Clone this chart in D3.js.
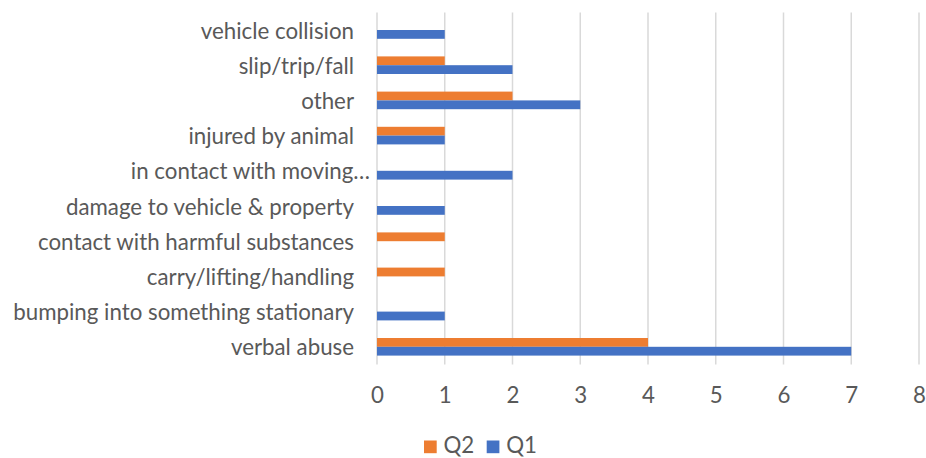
<!DOCTYPE html>
<html><head><meta charset="utf-8">
<script src="https://cdn.jsdelivr.net/npm/d3@7"></script>
<style>html,body{margin:0;padding:0;background:#fff;}svg{display:block;}</style>
</head><body>
<svg id="chart" width="926" height="458"></svg>
<script>
const categories = ["vehicle collision","slip/trip/fall","other","injured by animal","in contact with moving…","damage to vehicle & property","contact with harmful substances","carry/lifting/handling","bumping into something stationary","verbal abuse"];
const q1Values = [1,2,3,1,2,1,0,0,1,7];
const q2Values = [0,1,2,1,0,0,1,1,0,4];
const seriesNames = ["Q2","Q1"];
const xTicks = [0,1,2,3,4,5,6,7,8];

const colors = {Q1:"#4472C4", Q2:"#ED7D31"};
const textColor = "#595959";
const fontFamily = "Lato, 'Open Sans', sans-serif";

const svg = d3.select("#chart");
// fit font size so the longest label matches the reference width
const probe = svg.append("text").attr("font-family",fontFamily).attr("font-size",24).text("bumping into something stationary");
const w = probe.node().getComputedTextLength();
probe.remove();
const fs = 24 * 341 / w;

const x = d3.scaleLinear().domain([0,8]).range([377,919]);
const y = d3.scaleBand().domain(categories).range([12.4,364.4]).padding(0);
const ySub = d3.scaleBand().domain(seriesNames).range([0,y.bandwidth()]).paddingInner(0).paddingOuter(1);

// gridlines
svg.append("g").selectAll("line").data(xTicks).join("line")
  .attr("x1",d=>x(d)).attr("x2",d=>x(d))
  .attr("y1",y.range()[0]).attr("y2",y.range()[1])
  .attr("stroke","#d9d9d9").attr("stroke-width",1.5);

const rows = categories.map((c,i)=>({cat:c, Q1:q1Values[i], Q2:q2Values[i]}));
const g = svg.append("g");
rows.forEach(r=>{
  seriesNames.forEach(s=>{
    if (r[s] > 0) {
      g.append("rect")
        .attr("x",x(0)).attr("y",y(r.cat)+ySub(s))
        .attr("width",x(r[s])-x(0)).attr("height",ySub.bandwidth())
        .attr("fill",colors[s]);
    }
  });
});

// category labels
const yAxis = d3.axisLeft(y).tickSize(0).tickPadding(0);
const ya = svg.append("g").attr("transform","translate(354,0)").call(yAxis);
ya.select(".domain").remove();
ya.selectAll("text").attr("font-family",fontFamily).attr("font-size",fs)
  .attr("fill",textColor).attr("dy",null).attr("dominant-baseline","central")
  .attr("x", d => d.endsWith("…") ? 16 : 0);

// x tick labels
const xAxis = d3.axisBottom(x).tickValues(xTicks).tickSize(0).tickPadding(0).tickFormat(d3.format("d"));
const xa = svg.append("g").attr("transform","translate(0,402.7)").call(xAxis);
xa.select(".domain").remove();
xa.selectAll("text").attr("font-family",fontFamily).attr("font-size",fs)
  .attr("fill",textColor).attr("dy",null).attr("y",0);

// legend
const legendItems = [{name:"Q2", x:424},{name:"Q1", x:486.7}];
const lg = svg.append("g");
legendItems.forEach(it=>{
  lg.append("rect").attr("x",it.x).attr("y",440.5).attr("width",12.7).attr("height",12.7).attr("fill",colors[it.name]);
  lg.append("text").attr("x",it.x+19.5).attr("y",453.3).attr("font-family",fontFamily)
    .attr("font-size",fs).attr("fill",textColor).text(it.name);
});
</script>
</body></html>
